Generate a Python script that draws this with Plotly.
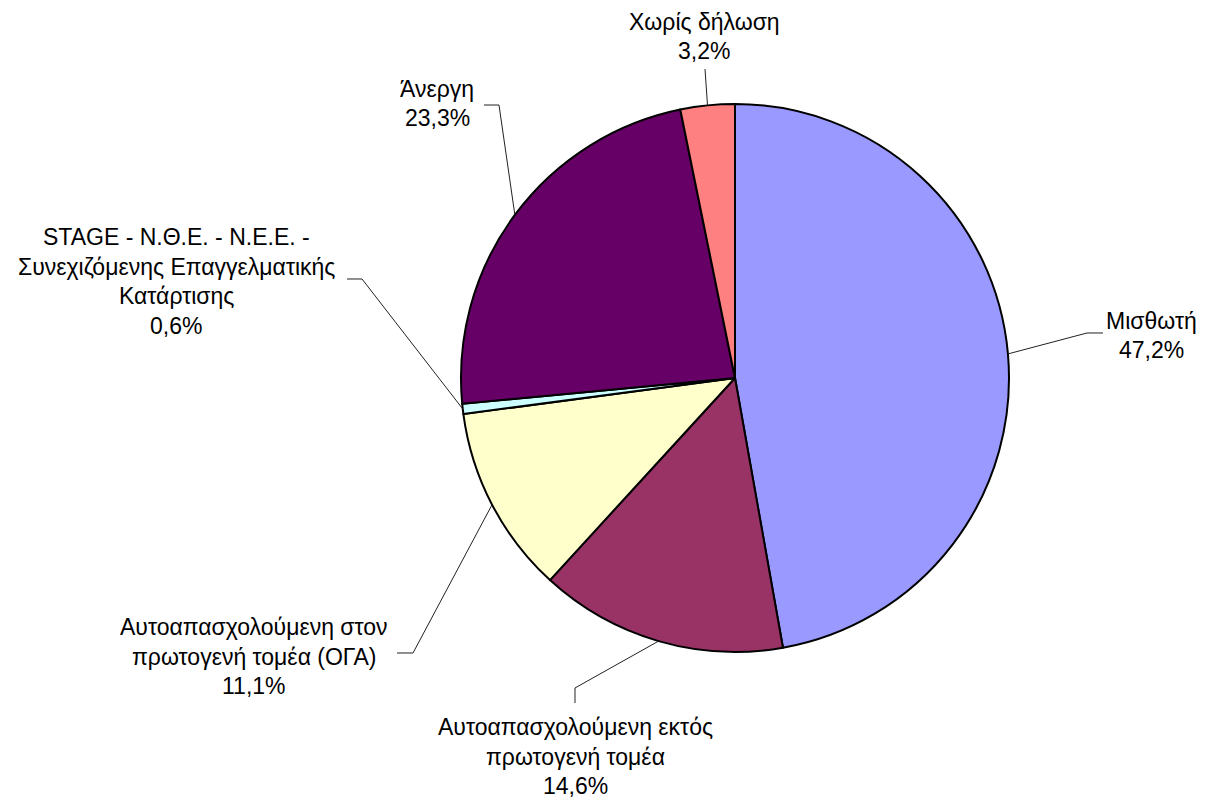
import math
import plotly.graph_objects as go

# ---- data ----
categories = [
    "Μισθωτή",
    "Αυτοαπασχολούμενη εκτός πρωτογενή τομέα",
    "Αυτοαπασχολούμενη στον πρωτογενή τομέα (ΟΓΑ)",
    "STAGE - Ν.Θ.Ε. - Ν.Ε.Ε. - Συνεχιζόμενης Επαγγελματικής Κατάρτισης",
    "Άνεργη",
    "Χωρίς δήλωση",
]
values = [47.2, 14.6, 11.1, 0.6, 23.3, 3.2]
label_lines = [
    ["Μισθωτή"],
    ["Αυτοαπασχολούμενη εκτός", "πρωτογενή τομέα"],
    ["Αυτοαπασχολούμενη στον", "πρωτογενή τομέα (ΟΓΑ)"],
    ["STAGE - Ν.Θ.Ε. - Ν.Ε.Ε. -", "Συνεχιζόμενης Επαγγελματικής", "Κατάρτισης"],
    ["Άνεργη"],
    ["Χωρίς δήλωση"],
]
colors = ["#9999FF", "#993366", "#FFFFCC", "#CCFFFF", "#660066", "#FF8080"]

# ---- layout constants (pixels, in window coordinates) ----
OFF = 8  # page body margin
W, H = 1205 - OFF, 799 - OFF
cx, cy, R = 735, 378, 274
LINE_H = 29.5
FONT = dict(family="Liberation Sans, Arial, sans-serif", size=23, color="black")
# text block center x, first line y ; leader elbow points
label_pos = [
    (1151, 321, [(1087, 333), (1103, 333)]),
    (575, 727, [(575, 688), (575, 703)]),
    (254, 627, [(413, 653), (397, 653)]),
    (176, 237, [(362, 279), (347, 279)]),
    (437, 89, [(499, 105), (484, 105)]),
    (704, 22, [(705, 69)]),
]


def px(x):
    return (x - OFF) / W


def py(y):
    return 1 - (y - OFF) / H


fig = go.Figure(
    go.Pie(
        labels=categories,
        values=values,
        sort=False,
        direction="clockwise",
        rotation=0,
        marker=dict(colors=colors, line=dict(color="black", width=2)),
        textinfo="none",
        hoverinfo="label+percent",
        showlegend=False,
        domain=dict(x=[px(cx - R), px(cx + R)], y=[py(cy + R), py(cy - R)]),
    )
)

total = sum(values)
annotations = []
shapes = []
cum = 0.0
for v, lines, (tx, ty, elbows) in zip(values, label_lines, label_pos):
    mid = cum + v / 2
    cum += v
    ang = math.radians(90 - mid / total * 360)
    ex, ey = cx + R * math.cos(ang), cy - R * math.sin(ang)
    pts = [(ex, ey)] + elbows
    path = "M " + " L ".join(f"{px(x):.5f} {py(y):.5f}" for x, y in pts)
    shapes.append(dict(type="path", path=path, xref="paper", yref="paper",
                       line=dict(color="#222222", width=1)))
    all_lines = lines + [f"{v:.1f}%".replace(".", ",")]
    for i, t in enumerate(all_lines):
        annotations.append(dict(
            x=px(tx), y=py(ty + i * LINE_H), xref="paper", yref="paper",
            text=t, showarrow=False, xanchor="center", yanchor="middle",
            font=FONT,
        ))

fig.update_layout(
    width=W, height=H,
    margin=dict(l=0, r=0, t=0, b=0),
    paper_bgcolor="white",
    plot_bgcolor="white",
    annotations=annotations,
    shapes=shapes,
)

fig.write_html("out.html")
